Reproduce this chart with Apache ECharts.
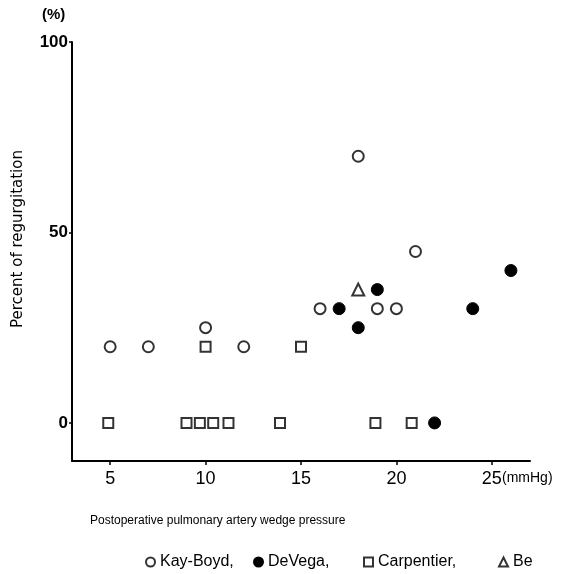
<!DOCTYPE html>
<html>
<head>
<meta charset="utf-8">
<script src="https://cdn.jsdelivr.net/npm/echarts@6/dist/echarts.min.js"></script>
<style>
html,body{margin:0;padding:0;background:#fff;}
#chart{width:561px;height:574px;}
</style>
</head>
<body>
<div id="chart"></div>
<script>
// Data (x: mmHg, y: %)
var kayBoyd = [[5,20],[7,20],[10,25],[12,20],[16,30],[18,70],[19,30],[20,30],[21,45]];
var deVega = [[17,30],[18,25],[19,35],[22,0],[24,30],[26,40]];
var carpentier = [[10,20],[15,20],[4.9,0],[9.0,0],[9.7,0],[10.4,0],[11.2,0],[13.9,0],[18.9,0],[20.8,0]];
var be = [[18,35]];
var seriesNames = ['Kay-Boyd,', 'DeVega,', 'Carpentier,', 'Be'];
var xTicks = [5,10,15,20,25];
var yTicks = [0,50,100];
var legendLefts = [140, 248, 358, 493];

var chart = echarts.init(document.getElementById('chart'));
var font = 'Liberation Sans';
var openStyle = {color:'#fff', borderColor:'#000', borderWidth:2};
var filledStyle = {color:'#000', borderColor:'#000', borderWidth:1, opacity:1};

var legends = seriesNames.map(function (n, i) {
  return {
    left:legendLefts[i], top:549,
    itemWidth:9, itemHeight:9,
    textStyle:{fontSize:16, color:'#000', fontFamily:font},
    data:[n]
  };
});

chart.setOption({
  animation:false,
  backgroundColor:'#fff',
  textStyle:{fontFamily:font},
  grid:{left:72, right:31, top:42, bottom:113},
  xAxis:{
    type:'value', min:3, max:27,
    axisLine:{onZero:false, lineStyle:{color:'#000', width:2}},
    axisTick:{customValues:xTicks, length:4, lineStyle:{color:'#000', width:1.5}},
    axisLabel:{customValues:xTicks, color:'#000', fontSize:18, fontFamily:font, margin:9},
    splitLine:{show:false}
  },
  yAxis:{
    type:'value', min:-10, max:100,
    axisLine:{show:true, lineStyle:{color:'#000', width:2}},
    axisTick:{show:true, customValues:yTicks, length:3, lineStyle:{color:'#000', width:1.5}},
    axisLabel:{customValues:yTicks, color:'#000', fontSize:17, fontWeight:'bold', fontFamily:font, margin:4},
    splitLine:{show:false}
  },
  legend:legends,
  graphic:[
    {type:'text', left:42, top:7, style:{text:'(%)', font:'bold 15px "Liberation Sans"', fill:'#000'}},
    {type:'text', left:502, top:471, style:{text:'(mmHg)', font:'14px "Liberation Sans"', fill:'#000'}},
    {type:'text', left:90, top:515, style:{text:'Postoperative pulmonary artery wedge pressure', font:'12px "Liberation Sans"', fill:'#000'}},
    {type:'text', x:18, y:239, rotation:Math.PI/2, style:{text:'Percent of regurgitation', font:'15px "DejaVu Sans"', fill:'#000', align:'center', verticalAlign:'middle'}}
  ],
  series:[
    {name:seriesNames[0], type:'scatter', symbol:'circle', symbolSize:11, itemStyle:openStyle, data:kayBoyd},
    {name:seriesNames[1], type:'scatter', symbol:'circle', symbolSize:12, itemStyle:filledStyle, data:deVega},
    {name:seriesNames[2], type:'scatter', symbol:'rect', symbolSize:10, itemStyle:openStyle, data:carpentier},
    {name:seriesNames[3], type:'scatter', symbol:'triangle', symbolSize:12, itemStyle:openStyle, data:be}
  ]
});
</script>
</body>
</html>
